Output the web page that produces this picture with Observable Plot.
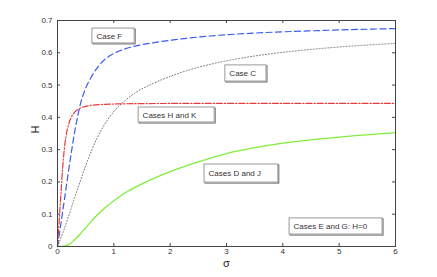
<!DOCTYPE html>
<html>
<head>
<meta charset="utf-8">
<script src="https://cdn.jsdelivr.net/npm/d3@7"></script>
<script src="https://cdn.jsdelivr.net/npm/@observablehq/plot@0.6"></script>
<style>
  html, body { margin: 0; padding: 0; background: #fff; }
  #chart { width: 437px; height: 277px; }
</style>
</head>
<body>
<div id="chart"></div>
<script>
// ---- data ----
const xTicks = [0, 1, 2, 3, 4, 5, 6];
const yTicks = [0, 0.1, 0.2, 0.3, 0.4, 0.5, 0.6, 0.7];
const yTickLabels = ["0", "0.1", "0.2", "0.3", "0.4", "0.5", "0.6", "0.7"];

// Case F (blue dashed)
const caseF_sigma = [0, 0.06, 0.12, 0.18, 0.24, 0.3, 0.36, 0.42, 0.5, 0.6, 0.7, 0.8, 0.95, 1.2, 1.5, 1.8, 2.2, 2.7, 3.5, 4.5, 6];
const caseF_H     = [0, 0.07, 0.142, 0.215, 0.285, 0.35, 0.405, 0.45, 0.49, 0.525, 0.552, 0.573, 0.593, 0.612, 0.625, 0.634, 0.643, 0.652, 0.661, 0.668, 0.675];

// Cases H and K (red dash-dot)
const caseHK_sigma = [0, 0.03, 0.06, 0.09, 0.12, 0.15, 0.2, 0.25, 0.3, 0.4, 0.55, 0.8, 1.2, 2, 6];
const caseHK_H     = [0, 0.08, 0.16, 0.24, 0.3, 0.34, 0.38, 0.402, 0.415, 0.428, 0.436, 0.44, 0.442, 0.443, 0.443];

// Case C (gray dotted)
const caseC_sigma = [0, 0.1, 0.2, 0.3, 0.4, 0.5, 0.6, 0.7, 0.8, 0.9, 1.0, 1.2, 1.4, 1.7, 2.0, 2.5, 3.0, 3.5, 4.3, 5, 6];
const caseC_H     = [0, 0.045, 0.095, 0.15, 0.2, 0.25, 0.295, 0.335, 0.368, 0.395, 0.418, 0.452, 0.478, 0.505, 0.527, 0.555, 0.575, 0.59, 0.607, 0.618, 0.629];

// Cases D and J (green solid)
const caseDJ_sigma = [0, 0.1, 0.2, 0.3, 0.4, 0.5, 0.6, 0.7, 0.85, 1.0, 1.25, 1.5, 2.0, 2.5, 3.0, 3.5, 4.0, 5.0, 6];
const caseDJ_H     = [0, 0.001, 0.006, 0.02, 0.038, 0.058, 0.078, 0.097, 0.121, 0.142, 0.171, 0.194, 0.232, 0.262, 0.288, 0.306, 0.32, 0.339, 0.353];

// annotation boxes (data units)
const boxLabels = ["Case F", "Case C", "Cases H and K", "Cases D and J", "Cases E and G: H=0"];
const boxX1 = [0.62, 2.98, 1.44, 2.61, 4.12];
const boxX2 = [1.37, 3.71, 2.79, 3.92, 5.77];
const boxY1 = [0.629, 0.511, 0.384, 0.198, 0.037];
const boxY2 = [0.675, 0.561, 0.4305, 0.254, 0.087];

// ---- build tables ----
const toRows = (xs, ys) => xs.map((x, i) => ({sigma: x, H: ys[i]}));
const rowsF = toRows(caseF_sigma, caseF_H);
const rowsHK = toRows(caseHK_sigma, caseHK_H);
const rowsC = toRows(caseC_sigma, caseC_H);
const rowsDJ = toRows(caseDJ_sigma, caseDJ_H);
const boxes = boxLabels.map((t, i) => ({label: t, x1: boxX1[i], x2: boxX2[i], y1: boxY1[i], y2: boxY2[i], ym: (boxY1[i] + boxY2[i]) / 2}));

const W = 437, Hh = 277;
const mL = 57, mR = 42, mT = 20, mB = 31;
const plotW = W - mL - mR, plotH = Hh - mT - mB;
const tick = 3;
const font = "'Liberation Sans', Arial, Helvetica, sans-serif";

const chart = Plot.plot({
  width: W,
  height: Hh,
  marginLeft: mL,
  marginRight: mR,
  marginTop: mT,
  marginBottom: mB,
  style: {fontFamily: font, fontSize: "8px", color: "#333", background: "#fff"},
  x: {domain: [0, 6]},
  y: {domain: [0, 0.7]},
  marks: [
    // inward ticks on all four sides
    Plot.tickY(yTicks, {y: d => d, insetRight: plotW - tick, stroke: "#444"}),
    Plot.tickY(yTicks, {y: d => d, insetLeft: plotW - tick, stroke: "#444"}),
    Plot.tickX(xTicks, {x: d => d, insetTop: plotH - tick, stroke: "#444"}),
    Plot.tickX(xTicks, {x: d => d, insetBottom: plotH - tick, stroke: "#444"}),
    // tick labels
    Plot.axisX({ticks: xTicks, tickSize: 0, tickPadding: 2, label: null, tickFormat: d => String(d), fill: "#333"}),
    Plot.axisY({ticks: yTicks, tickSize: 0, tickPadding: 5, label: null, tickFormat: (d, i) => yTickLabels[i], fill: "#333"}),
    // curves
    Plot.line(rowsDJ, {x: "sigma", y: "H", stroke: "#7fee3a", strokeWidth: 1.3, curve: "monotone-x"}),
    Plot.line(rowsC, {x: "sigma", y: "H", stroke: "#777", strokeWidth: 1, strokeDasharray: "1,2", curve: "monotone-x"}),
    Plot.line(rowsF, {x: "sigma", y: "H", stroke: "#3a5cf2", strokeWidth: 1.2, strokeDasharray: "6,3.5", curve: "monotone-x"}),
    Plot.line(rowsHK, {x: "sigma", y: "H", stroke: "#e83a3a", strokeWidth: 1.2, strokeDasharray: "6,2,1.2,2", curve: "monotone-x"}),
    // annotation boxes
    Plot.rect(boxes, {x1: "x1", x2: "x2", y1: "y1", y2: "y2", dx: 1, dy: 1, fill: "none", stroke: "#666", strokeWidth: 1}),
    Plot.rect(boxes, {x1: "x1", x2: "x2", y1: "y1", y2: "y2", fill: "#fff", stroke: "#999", strokeWidth: 1}),
    Plot.text(boxes, {x: "x1", y: "ym", text: "label", dx: 4, textAnchor: "start", fill: "#333", fontSize: 8}),
    // frame
    Plot.frame({stroke: "#444", strokeWidth: 1}),
    // axis titles
    Plot.text(["H"], {frameAnchor: "left", dx: -22, rotate: -90, fontSize: 11, fill: "#222"}),
    Plot.text(["σ"], {frameAnchor: "bottom", dy: 20, fontSize: 11, fill: "#222"})
  ]
});
document.getElementById("chart").appendChild(chart);
</script>
</body>
</html>
